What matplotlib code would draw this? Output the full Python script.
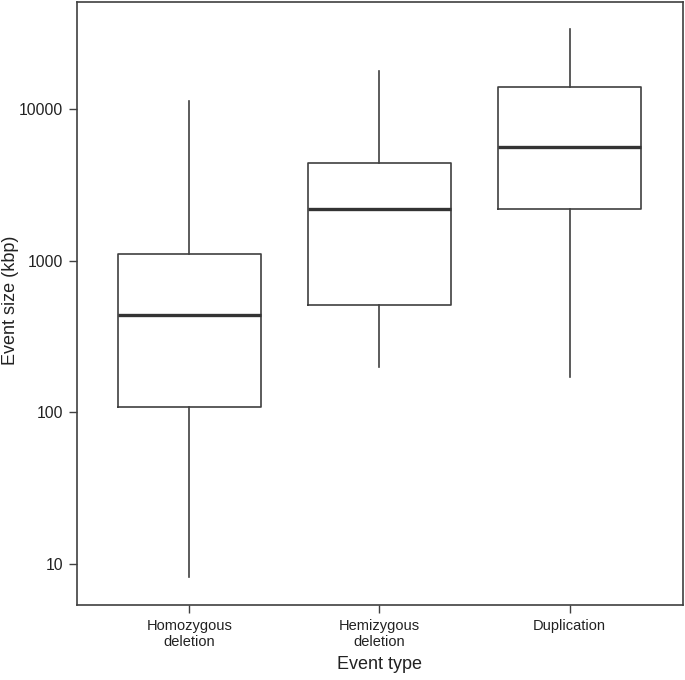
import matplotlib
matplotlib.use("Agg")
import matplotlib.pyplot as plt

categories = ["Homozygous\ndeletion", "Hemizygous\ndeletion", "Duplication"]
whisker_low = [8.2, 200, 170]
q1 = [109, 511, 2190]
median = [440, 2183, 5610]
q3 = [1107, 4425, 13900]
whisker_high = [11340, 17890, 33830]
yticks = [10, 100, 1000, 10000]
ytick_labels = ["10", "100", "1000", "10000"]

plt.rcParams['font.family'] = ['Liberation Sans', 'DejaVu Sans']

fig = plt.figure(figsize=(6.85, 6.8), dpi=100)
ax = fig.add_axes([77/685, 1-604.7/680, (682.7-77)/685, (604.7-2)/680])

stats = []
for i in range(len(categories)):
    stats.append(dict(whislo=whisker_low[i], q1=q1[i], med=median[i],
                      q3=q3[i], whishi=whisker_high[i], fliers=[], label=categories[i]))

col = "#404040"
ax.bxp(stats, positions=[1, 2, 3], widths=0.75, showcaps=False, showfliers=False,
       boxprops=dict(color=col, linewidth=1.2),
       whiskerprops=dict(color=col, linewidth=1.2),
       medianprops=dict(color="#333333", linewidth=2.4))

ax.set_yscale("log")
ax.set_ylim(5.39, 50760)
ax.set_xlim(0.409, 3.595)
ax.set_yticks(yticks)
ax.set_yticklabels(ytick_labels)
ax.yaxis.set_minor_locator(matplotlib.ticker.NullLocator())
ax.tick_params(axis="both", direction="out", length=6, width=1, color=col, labelcolor="#222222")
ax.tick_params(axis="y", labelsize=11.3, pad=4)
ax.tick_params(axis="x", labelsize=10.5, pad=4)
for s in ax.spines.values():
    s.set_color(col)
    s.set_linewidth(1.2)

ax.set_xlabel("Event type", fontsize=13, color="#222222")
ax.set_ylabel("Event size (kbp)", fontsize=13, color="#222222")
ax.yaxis.set_label_coords(-0.096, 0.505)
ax.xaxis.set_label_coords(0.5, -0.085)

fig.savefig("out.png", dpi=100)
